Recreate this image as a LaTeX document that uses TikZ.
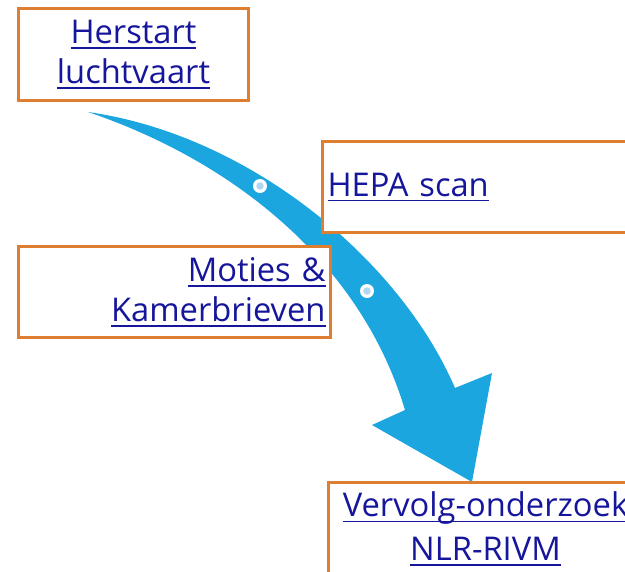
\documentclass[tikz,border=0pt]{standalone}
\usepackage{fontspec}
\setmainfont{Open Sans}
\usepackage{xcolor}
\definecolor{linkblue}{HTML}{16169C}
\definecolor{boxorange}{HTML}{DE7E30}
\definecolor{flowblue}{HTML}{1BA6E0}
\definecolor{dotblue}{HTML}{B0D6F2}
\usepackage{tikz}
\usetikzlibrary{positioning}
\newcommand{\lnk}[1]{\leavevmode\setbox0\hbox{#1}\rlap{\rule[-3pt]{\wd0}{0.9pt}}\box0}
\tikzset{
  linkbox/.style={draw=boxorange,line width=0.6mm,fill=white,anchor=north west,
    inner xsep=1mm,inner ysep=0pt,text=linkblue,
    font=\fontsize{18.6}{22.8}\selectfont},
  stop/.style={circle,fill=white,minimum size=2.8mm,inner sep=0pt},
  stopcore/.style={circle,fill=dotblue,minimum size=1.5mm,inner sep=0pt}}
\begin{document}
\begin{tikzpicture}[x=0.2mm,y=-0.2mm]
  \useasboundingbox (0,0) rectangle (625,572);
  \clip (0,0) rectangle (625,572);
  \fill[white] (0,0) rectangle (625,572);
  % curved arrow
  \fill[flowblue] (88,112) .. controls (250,135) and (400,260) .. (455,388)
    -- (492,373) -- (472,482) -- (372,425) -- (405,410)
    .. controls (360,260) and (230,160) .. (88,112) -- cycle;
  \node[stop] (s1) at (260,186) {};\node[stopcore] at (s1) {};
  \node[stop] (s2) at (367,291) {};\node[stopcore] at (s2) {};
  \node[linkbox,minimum width=46mm,minimum height=18.4mm,text width=44mm,align=center]
    (herstart) at (17,7) {\lnk{Herstart}\\\lnk{luchtvaart}};
  \node[linkbox,minimum width=64mm,minimum height=18.2mm,text width=62mm,align=left]
    (hepa) at (321,140) {\lnk{HEPA scan}};
  \node[linkbox,minimum width=62.4mm,minimum height=18.2mm,text width=60.4mm,align=right]
    (moties) at (17,245) {\lnk{Moties \&}\\\lnk{Kamerbrieven}};
  \node[linkbox,minimum width=62.8mm,minimum height=18.6mm,text width=60.8mm,align=center,
    font=\fontsize{18.6}{25}\selectfont]
    (vervolg) at (327,481) {\lnk{Vervolg-onderzoek}\\\lnk{NLR-RIVM}};
\end{tikzpicture}
\end{document}
